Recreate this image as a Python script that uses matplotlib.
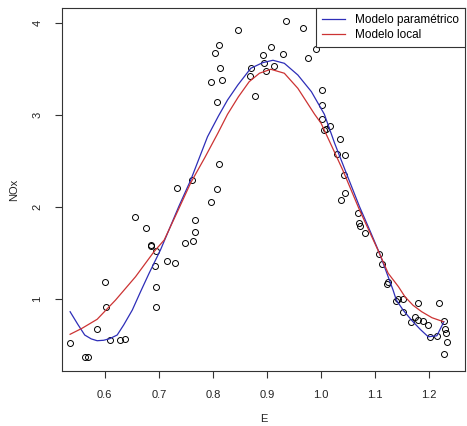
import matplotlib
matplotlib.use("Agg")
import matplotlib.pyplot as plt

plt.rcParams['font.family'] = ['Liberation Sans', 'DejaVu Sans']

# Observed data (E, NOx)
E = [0.536, 0.563, 0.569, 0.586, 0.601, 0.603, 0.609, 0.629, 0.637, 0.656,
     0.677, 0.685, 0.686, 0.694, 0.693, 0.695, 0.695, 0.715, 0.729, 0.734,
     0.761, 0.808, 0.796, 0.767, 0.766, 0.749, 0.763, 0.808, 0.812, 0.846,
     0.935, 0.967, 0.812, 0.803, 0.907, 0.892, 0.930, 0.990, 0.976, 0.813,
     0.894, 0.871, 0.912, 0.899, 0.868, 0.797, 0.816, 0.878, 1.002, 1.002,
     1.002, 1.005, 1.009, 1.017, 1.035, 1.030, 1.045, 1.042, 1.045, 1.036,
     1.069, 1.070, 1.072, 1.081, 1.107, 1.113, 1.124, 1.122, 1.138, 1.143,
     1.151, 1.180, 1.218, 1.151, 1.174, 1.180, 1.188, 1.197, 1.167, 1.227,
     1.229, 1.231, 1.201, 1.214, 1.233, 1.228]
NOx = [0.528, 0.373, 0.373, 0.674, 1.191, 0.920, 0.561, 0.561, 0.572, 1.895,
       1.775, 1.583, 1.590, 1.525, 1.367, 1.137, 0.920, 1.413, 1.391, 2.215,
       2.293, 2.199, 2.063, 1.864, 1.728, 1.617, 1.634, 3.141, 2.471, 3.924,
       4.020, 3.949, 3.759, 3.677, 3.742, 3.652, 3.670, 3.724, 3.620, 3.517,
       3.565, 3.517, 3.533, 3.485, 3.424, 3.359, 3.380, 3.207, 3.280, 3.117,
       2.958, 2.837, 2.846, 2.880, 2.737, 2.576, 2.566, 2.354, 2.152, 2.079,
       1.943, 1.833, 1.800, 1.721, 1.496, 1.384, 1.191, 1.168, 0.979, 1.003,
       1.001, 0.963, 0.963, 0.862, 0.810, 0.778, 0.762, 0.723, 0.755, 0.759,
       0.675, 0.636, 0.588, 0.603, 0.538, 0.411]

# Parametric model curve
E_param = [0.536, 0.550, 0.563, 0.575, 0.586, 0.598, 0.609, 0.623, 0.635, 0.651,
           0.666, 0.682, 0.703, 0.716, 0.737, 0.759, 0.775, 0.790, 0.810, 0.827,
           0.846, 0.870, 0.892, 0.911, 0.932, 0.957, 0.982, 1.006, 1.025, 1.048,
           1.071, 1.090, 1.108, 1.133, 1.139, 1.152, 1.167, 1.183, 1.198, 1.214,
           1.227]
NOx_param = [0.865, 0.730, 0.612, 0.570, 0.550, 0.555, 0.572, 0.612, 0.721, 0.884,
             1.080, 1.283, 1.536, 1.717, 2.010, 2.297, 2.540, 2.767, 2.990, 3.166,
             3.329, 3.511, 3.572, 3.598, 3.565, 3.438, 3.257, 3.011, 2.696, 2.350,
             2.007, 1.750, 1.500, 1.101, 0.992, 0.880, 0.775, 0.675, 0.593, 0.604,
             0.757]

# Local (loess) model curve
E_local = [0.536, 0.558, 0.586, 0.620, 0.657, 0.691, 0.710, 0.735, 0.759, 0.785,
           0.809, 0.827, 0.847, 0.867, 0.886, 0.907, 0.932, 0.957, 0.988, 1.000,
           1.020, 1.040, 1.071, 1.105, 1.124, 1.143, 1.155, 1.170, 1.186, 1.205,
           1.226]
NOx_local = [0.620, 0.685, 0.783, 0.992, 1.246, 1.517, 1.645, 1.960, 2.267, 2.540,
             2.804, 3.011, 3.200, 3.365, 3.457, 3.500, 3.457, 3.293, 3.011, 2.913,
             2.660, 2.405, 1.971, 1.536, 1.283, 1.137, 1.028, 0.935, 0.865, 0.800,
             0.757]

xticks = [0.6, 0.7, 0.8, 0.9, 1.0, 1.1, 1.2]
xticklabels = ["0.6", "0.7", "0.8", "0.9", "1.0", "1.1", "1.2"]
yticks = [1, 2, 3, 4]
yticklabels = ["1", "2", "3", "4"]

fig = plt.figure(figsize=(4.67, 4.26), dpi=100)
ax = fig.add_axes([62 / 467, 55 / 426, 403 / 467, 363 / 426])

ax.plot(E, NOx, linestyle='none', marker='o', markersize=4.3,
        markerfacecolor='none', markeredgecolor='black', markeredgewidth=0.7)
ax.plot(E_param, NOx_param, color='#2e2eb8', linewidth=0.9, label='Modelo paramétrico')
ax.plot(E_local, NOx_local, color='#cc3333', linewidth=0.9, label='Modelo local')

ax.set_xlim(0.521, 1.266)
ax.set_ylim(0.221, 4.166)
ax.set_xticks(xticks)
ax.set_xticklabels(xticklabels)
ax.set_yticks(yticks)
ax.set_yticklabels(yticklabels, rotation=90, va='center')
ax.tick_params(axis='both', direction='out', length=5, width=0.8, labelsize=8,
               colors='#333333', labelcolor='#222222')
ax.tick_params(axis='x', pad=9)
ax.tick_params(axis='y', pad=9)
for s in ax.spines.values():
    s.set_linewidth(0.8)
    s.set_color('#333333')

ax.set_xlabel('E', fontsize=8, color='#222222', labelpad=10)
ax.set_ylabel('NOx', fontsize=8, color='#222222', labelpad=10)

leg = ax.legend(loc='upper right', fontsize=8.5, frameon=True, fancybox=False,
                borderaxespad=0, handlelength=1.95, handletextpad=0.8,
                borderpad=0.55, labelspacing=0.2)
leg.get_frame().set_edgecolor('#333333')
leg.get_frame().set_linewidth(0.8)
leg.get_frame().set_alpha(1)

fig.savefig('out.png', dpi=100)
